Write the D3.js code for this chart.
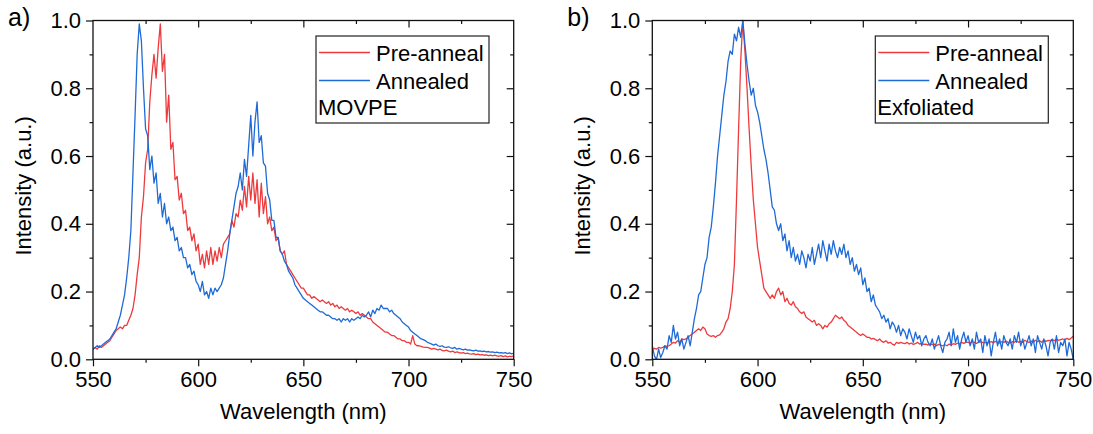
<!DOCTYPE html>
<html>
<head>
<meta charset="utf-8">
<script src="https://cdn.jsdelivr.net/npm/d3@7"></script>
<style>
  body { margin: 0; background: #fff; }
  text { font-family: Arial, "Liberation Sans", sans-serif; fill: #000; }
</style>
</head>
<body>
<div id="container"></div>
<script>
let w = 1093;
let h = 434;

// DATA (intensity every 1 nm from 550 to 750 nm)
let wavelength = d3.range(550, 751, 1);

let movpePre = [
  0.03,0.035,0.03,0.04,0.035,0.04,0.045,0.05,0.055,0.065,
  0.075,0.085,0.09,0.095,0.09,0.10,0.10,0.115,0.13,0.15,
  0.19,0.25,0.30,0.42,0.48,0.58,0.62,0.76,0.84,0.90,
  0.83,0.92,0.99,0.85,0.90,0.70,0.78,0.62,0.64,0.53,
  0.54,0.47,0.49,0.43,0.44,0.38,0.39,0.35,0.37,0.32,
  0.34,0.28,0.31,0.27,0.32,0.28,0.33,0.28,0.32,0.29,
  0.33,0.30,0.34,0.35,0.36,0.37,0.41,0.39,0.43,0.42,
  0.47,0.44,0.51,0.45,0.54,0.47,0.55,0.46,0.53,0.42,
  0.52,0.43,0.48,0.40,0.42,0.38,0.39,0.35,0.36,0.32,
  0.31,0.32,0.28,0.27,0.26,0.25,0.24,0.23,0.22,0.21,
  0.21,0.20,0.19,0.19,0.18,0.185,0.18,0.175,0.17,0.175,
  0.17,0.165,0.17,0.16,0.165,0.155,0.16,0.15,0.155,0.15,
  0.145,0.15,0.14,0.145,0.14,0.135,0.14,0.13,0.135,0.13,
  0.125,0.12,0.12,0.11,0.105,0.10,0.095,0.09,0.085,0.08,
  0.08,0.075,0.07,0.07,0.065,0.06,0.06,0.055,0.055,0.05,
  0.05,0.045,0.07,0.045,0.04,0.04,0.038,0.036,0.035,0.035,
  0.033,0.03,0.032,0.03,0.028,0.03,0.026,0.025,0.027,0.024,
  0.022,0.024,0.02,0.022,0.02,0.018,0.02,0.017,0.018,0.016,
  0.015,0.017,0.014,0.015,0.013,0.014,0.012,0.013,0.011,0.012,
  0.01,0.012,0.01,0.009,0.011,0.008,0.01,0.007,0.009,0.008,0.01
];

let movpeAnn = [
  0.03,0.035,0.04,0.035,0.04,0.045,0.05,0.055,0.06,0.07,
  0.08,0.09,0.11,0.13,0.16,0.19,0.24,0.30,0.38,0.55,
  0.72,0.90,0.99,0.94,0.80,0.68,0.66,0.56,0.60,0.52,
  0.55,0.46,0.49,0.42,0.46,0.40,0.42,0.38,0.39,0.35,
  0.36,0.32,0.33,0.30,0.30,0.27,0.28,0.25,0.26,0.23,
  0.22,0.20,0.23,0.19,0.20,0.18,0.21,0.19,0.21,0.20,
  0.21,0.22,0.24,0.28,0.32,0.37,0.41,0.45,0.49,0.51,
  0.55,0.50,0.59,0.54,0.63,0.72,0.60,0.70,0.76,0.64,
  0.66,0.58,0.57,0.49,0.47,0.41,0.41,0.36,0.36,0.32,
  0.31,0.29,0.28,0.26,0.25,0.24,0.22,0.21,0.20,0.19,
  0.18,0.175,0.17,0.165,0.16,0.155,0.15,0.145,0.14,0.14,
  0.135,0.13,0.13,0.125,0.12,0.12,0.115,0.12,0.11,0.12,
  0.115,0.12,0.11,0.12,0.115,0.12,0.125,0.12,0.13,0.125,
  0.13,0.14,0.125,0.145,0.135,0.15,0.145,0.16,0.15,0.15,
  0.15,0.14,0.145,0.135,0.13,0.125,0.12,0.11,0.105,0.10,
  0.095,0.085,0.08,0.075,0.07,0.065,0.06,0.058,0.055,0.05,
  0.048,0.045,0.042,0.045,0.04,0.038,0.04,0.036,0.035,0.037,
  0.034,0.032,0.035,0.03,0.032,0.03,0.028,0.03,0.027,0.028,
  0.026,0.025,0.027,0.024,0.025,0.023,0.024,0.022,0.023,0.021,
  0.022,0.02,0.021,0.019,0.02,0.018,0.02,0.017,0.019,0.016,0.018
];

let exfPre = [
  0.03,0.032,0.03,0.035,0.033,0.035,0.04,0.038,0.04,0.045,
  0.05,0.048,0.055,0.05,0.06,0.058,0.06,0.065,0.07,0.075,
  0.08,0.085,0.09,0.085,0.095,0.09,0.075,0.07,0.068,0.07,
  0.065,0.07,0.072,0.08,0.09,0.11,0.12,0.15,0.20,0.28,
  0.47,0.68,0.88,1.0,0.91,0.80,0.68,0.57,0.47,0.40,
  0.33,0.29,0.25,0.21,0.20,0.19,0.18,0.19,0.18,0.20,
  0.21,0.19,0.20,0.17,0.18,0.165,0.16,0.17,0.155,0.15,
  0.14,0.135,0.14,0.125,0.12,0.115,0.11,0.115,0.10,0.105,
  0.10,0.09,0.10,0.095,0.105,0.11,0.12,0.13,0.125,0.12,
  0.125,0.115,0.11,0.10,0.095,0.09,0.085,0.08,0.075,0.07,
  0.075,0.07,0.065,0.065,0.06,0.062,0.058,0.055,0.06,0.053,
  0.05,0.055,0.048,0.05,0.045,0.042,0.05,0.047,0.05,0.048,
  0.046,0.05,0.045,0.048,0.044,0.046,0.05,0.045,0.047,0.044,
  0.045,0.042,0.046,0.043,0.045,0.04,0.044,0.042,0.04,0.043,
  0.04,0.045,0.042,0.046,0.044,0.048,0.045,0.05,0.047,0.05,
  0.05,0.048,0.052,0.05,0.047,0.05,0.052,0.049,0.05,0.048,
  0.05,0.052,0.049,0.053,0.05,0.048,0.052,0.05,0.054,0.05,
  0.048,0.052,0.05,0.055,0.05,0.053,0.05,0.056,0.052,0.05,
  0.054,0.05,0.056,0.052,0.055,0.05,0.057,0.053,0.056,0.055,
  0.058,0.055,0.06,0.056,0.058,0.06,0.057,0.062,0.058,0.063,0.068
];

let exfAnn = [
  0.04,0.01,0.0,0.03,0.005,0.02,0.04,0.03,0.07,0.05,
  0.10,0.06,0.08,0.04,0.06,0.03,0.05,0.07,0.04,0.08,
  0.12,0.15,0.19,0.20,0.24,0.28,0.30,0.36,0.39,0.45,
  0.52,0.60,0.66,0.72,0.78,0.82,0.88,0.91,0.90,0.96,
  0.94,0.98,0.95,1.0,0.93,0.87,0.82,0.78,0.80,0.75,
  0.73,0.70,0.66,0.62,0.59,0.55,0.50,0.45,0.44,0.40,
  0.38,0.40,0.35,0.37,0.32,0.35,0.30,0.33,0.29,0.31,
  0.28,0.32,0.30,0.27,0.31,0.29,0.33,0.28,0.31,0.34,
  0.30,0.35,0.32,0.29,0.34,0.31,0.35,0.32,0.30,0.33,
  0.31,0.34,0.30,0.32,0.28,0.30,0.26,0.28,0.25,0.27,
  0.22,0.24,0.20,0.21,0.17,0.19,0.16,0.15,0.14,0.12,
  0.13,0.11,0.12,0.09,0.11,0.10,0.08,0.10,0.07,0.09,
  0.08,0.06,0.09,0.07,0.05,0.08,0.06,0.07,0.04,0.06,
  0.07,0.05,0.04,0.06,0.03,0.05,0.07,0.04,0.02,0.05,
  0.06,0.08,0.04,0.09,0.05,0.07,0.03,0.06,0.08,0.05,
  0.07,0.04,0.06,0.03,0.08,0.05,0.06,0.02,0.07,0.04,
  0.06,0.01,0.05,0.08,0.04,0.06,0.03,0.07,0.05,0.04,
  0.06,0.03,0.07,0.05,0.08,0.04,0.06,0.03,0.05,0.07,
  0.04,0.06,0.02,0.07,0.05,0.03,0.06,0.04,0.01,0.05,
  0.06,0.03,0.07,0.02,0.05,0.04,0.06,0.01,0.05,0.03,0.0
];

let seriesNames = ["Pre-anneal", "Annealed"];
let seriesColors = ["#ee3a3c", "#1e6bd8"];
let xTicks = [550, 600, 650, 700, 750];
let xMinor = [575, 625, 675, 725];
let yTicks = [0, 0.2, 0.4, 0.6, 0.8, 1.0];
let yMinor = [0.1, 0.3, 0.5, 0.7, 0.9];

// SVG
let viz = d3.select("#container").append("svg")
    .attr("width", w)
    .attr("height", h)
    .style("background-color", "white");

let plotTop = 20.5, plotBottom = 359.3;
let fontSize = "22px";

function drawPanel(left, right, tag, sample, pre, ann) {
  let x = d3.scaleLinear().domain([550, 750]).range([left, right]);
  let y = d3.scaleLinear().domain([0, 1]).range([plotBottom, plotTop]);
  let g = viz.append("g");

  let clipId = "clip" + tag;
  g.append("clipPath").attr("id", clipId)
    .append("rect").attr("x", left).attr("y", plotTop - 1)
    .attr("width", right - left).attr("height", plotBottom - plotTop + 1);

  let line = d3.line()
    .x(function(d, i){ return x(wavelength[i]); })
    .y(function(d){ return y(d); });

  let curves = g.append("g").attr("clip-path", "url(#" + clipId + ")");
  [pre, ann].forEach(function(s, k){
    curves.append("path")
      .attr("d", line(s))
      .attr("fill", "none")
      .attr("stroke", seriesColors[k])
      .attr("stroke-width", 1.3)
      .attr("stroke-linejoin", "round");
  });

  // axes
  let fmt = d3.format(".1f");
  g.append("g").attr("transform", "translate(0," + plotBottom + ")")
    .call(d3.axisBottom(x).tickValues(xTicks).tickSize(7).tickSizeOuter(0).tickPadding(5));
  g.append("g").attr("transform", "translate(0," + plotBottom + ")")
    .call(d3.axisBottom(x).tickValues(xMinor).tickSize(3.5).tickFormat(""));
  g.append("g").attr("transform", "translate(" + left + ",0)")
    .call(d3.axisLeft(y).tickValues(yTicks).tickSize(7).tickSizeOuter(0).tickPadding(5).tickFormat(fmt));
  g.append("g").attr("transform", "translate(" + left + ",0)")
    .call(d3.axisLeft(y).tickValues(yMinor).tickSize(3.5).tickFormat(""));
  // mirrored axes, inward ticks
  g.append("g").attr("transform", "translate(0," + plotTop + ")")
    .call(d3.axisTop(x).tickValues(xTicks.slice(1, -1)).tickSize(-7).tickFormat(""));
  g.append("g").attr("transform", "translate(0," + plotTop + ")")
    .call(d3.axisTop(x).tickValues(xMinor).tickSize(-3.5).tickFormat(""));
  g.append("g").attr("transform", "translate(" + right + ",0)")
    .call(d3.axisRight(y).tickValues(yTicks.slice(1, -1)).tickSize(-7).tickFormat(""));
  g.append("g").attr("transform", "translate(" + right + ",0)")
    .call(d3.axisRight(y).tickValues(yMinor).tickSize(-3.5).tickFormat(""));

  g.selectAll(".domain").remove();
  g.selectAll(".tick line").attr("stroke", "#111").attr("stroke-width", 1.2);
  g.selectAll(".tick text").style("font-size", fontSize).attr("fill", "#000");

  g.append("rect")
    .attr("x", left).attr("y", plotTop)
    .attr("width", right - left).attr("height", plotBottom - plotTop)
    .attr("fill", "none").attr("stroke", "#111").attr("stroke-width", 1.3);

  // titles
  g.append("text")
    .attr("x", (left + right) / 2).attr("y", 419)
    .attr("text-anchor", "middle").style("font-size", fontSize)
    .text("Wavelength (nm)");
  g.append("text")
    .attr("transform", "translate(" + (left - 62) + "," + ((plotTop + plotBottom) / 2 - 4) + ") rotate(-90)")
    .attr("text-anchor", "middle").style("font-size", fontSize)
    .text("Intensity (a.u.)");
  g.append("text")
    .attr("x", left - 85).attr("y", 26)
    .style("font-size", "25px")
    .text(tag + ")");

  // legend
  let lx = left + 223, ly = 36;
  g.append("rect")
    .attr("x", lx).attr("y", ly).attr("width", 173).attr("height", 87)
    .attr("fill", "white").attr("stroke", "#222").attr("stroke-width", 1.2);
  seriesNames.forEach(function(name, k){
    let yy = ly + 16.5 + k * 28;
    g.append("line")
      .attr("x1", lx + 3).attr("x2", lx + 54)
      .attr("y1", yy).attr("y2", yy)
      .attr("stroke", seriesColors[k]).attr("stroke-width", 1.3);
    g.append("text")
      .attr("x", lx + 60).attr("y", yy + 8)
      .style("font-size", fontSize)
      .text(name);
  });
  g.append("text")
    .attr("x", lx + 2).attr("y", ly + 79)
    .style("font-size", fontSize)
    .text(sample);
}

drawPanel(93, 513.7, "a", "MOVPE", movpePre, movpeAnn);
drawPanel(652.3, 1073.3, "b", "Exfoliated", exfPre, exfAnn);
</script>
</body>
</html>
